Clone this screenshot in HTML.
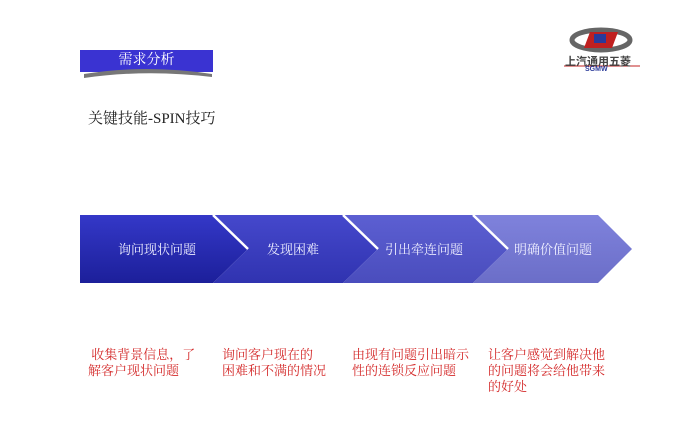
<!DOCTYPE html>
<html><head><meta charset="utf-8"><style>
body{margin:0;width:692px;height:428px;background:#fff;position:relative;overflow:hidden;font-family:"Liberation Serif","Noto Serif CJK SC","Noto Sans CJK SC",serif}
.a{position:absolute;white-space:nowrap}
.r{color:#d42a2a;font-size:13px;line-height:16px}
</style></head><body>
<svg width="692" height="428" style="position:absolute;left:0;top:0">
<defs>
<linearGradient id="g1" x1="0" y1="0" x2="0" y2="1"><stop offset="0" stop-color="#3438c8"/><stop offset="1" stop-color="#1c1f9a"/></linearGradient>
<linearGradient id="g2" x1="0" y1="0" x2="0" y2="1"><stop offset="0" stop-color="#4548cc"/><stop offset="1" stop-color="#3033b0"/></linearGradient>
<linearGradient id="g3" x1="0" y1="0" x2="0" y2="1"><stop offset="0" stop-color="#5c5fd2"/><stop offset="1" stop-color="#4a4dbd"/></linearGradient>
<linearGradient id="g4" x1="0" y1="0" x2="0" y2="1"><stop offset="0" stop-color="#7f82dc"/><stop offset="1" stop-color="#6b6ec8"/></linearGradient>
</defs>
<polygon points="80,50 213,50 213,72 80,72" fill="#3a33d2"/>
<path d="M84,74 Q146,64 212,74 L212,77 Q146,69 84,78Z" fill="#777"/>
<polygon points="80,215 213,215 248,249 213,283 80,283" fill="url(#g1)"/>
<polygon points="213,215 343,215 378,249 343,283 213,283 248,249" fill="url(#g2)"/>
<polygon points="343,215 473,215 508,249 473,283 343,283 378,249" fill="url(#g3)"/>
<polygon points="473,215 598,215 632,249 598,283 473,283 508,249" fill="url(#g4)"/>
<path d="M213,215 L248,249 M343,215 L378,249 M473,215 L508,249" stroke="#fff" stroke-width="2.5"/>
<ellipse cx="601" cy="40" rx="29" ry="10" fill="none" stroke="#666" stroke-width="5"/>
<polygon points="590,32 618,32 612,48 584,48" fill="#c02020"/>
<rect x="594" y="34" width="12" height="9" fill="#2a3a9a"/>
<line x1="564" y1="66" x2="640" y2="66" stroke="#c02020" stroke-width="1"/>
</svg>
<div class="a" style="left:80px;top:51px;width:133px;text-align:center;color:#fff;font-size:14px;line-height:20px">需求分析</div>
<div class="a" style="left:565px;top:53px;font-size:11px;font-weight:bold;color:#444;font-family:'Liberation Sans','Noto Sans CJK SC',sans-serif">上汽通用五菱</div>
<div class="a" style="left:585px;top:66px;font-size:7px;font-weight:bold;color:#2a3a9a;font-family:'Liberation Sans',sans-serif">SGMW</div>
<div class="a" style="left:88px;top:107px;font-size:15px;color:#222">关键技能-SPIN技巧</div>
<div class="a" style="left:118px;top:239px;color:#eef;font-size:13px">询问现状问题</div>
<div class="a" style="left:267px;top:239px;color:#eef;font-size:13px">发现困难</div>
<div class="a" style="left:385px;top:239px;color:#eef;font-size:13px">引出牵连问题</div>
<div class="a" style="left:514px;top:239px;color:#eef;font-size:13px">明确价值问题</div>
<div class="a r" style="left:88px;top:347px">&nbsp;收集背景信息，了<br>解客户现状问题</div>
<div class="a r" style="left:222px;top:347px">询问客户现在的<br>困难和不满的情况</div>
<div class="a r" style="left:352px;top:347px">由现有问题引出暗示<br>性的连锁反应问题</div>
<div class="a r" style="left:488px;top:347px">让客户感觉到解决他<br>的问题将会给他带来<br>的好处</div>
</body></html>
